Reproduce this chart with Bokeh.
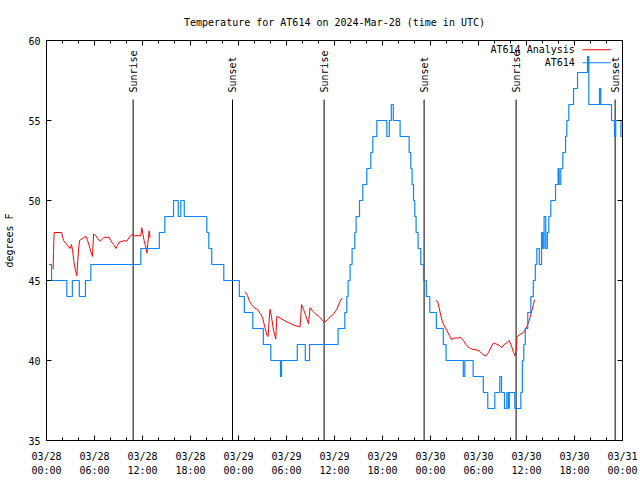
import math
from bokeh.plotting import figure
from bokeh.models import FixedTicker, LinearAxis, Range1d
from bokeh.embed import file_html
from bokeh.resources import INLINE
from bokeh.core.properties import value

FONT = "DejaVu Sans Mono"
TITLE = "Temperature for AT614 on 2024-Mar-28 (time in UTC)"
Y_LABEL = "degrees F"
OBS_NAME = "AT614"
ANA_NAME = "AT614 Analysis"

obs_hours = [0.30, 0.63, 2.54, 3.23, 4.10, 4.87, 5.54, 11.79, 14.10, 14.79,
             15.88, 16.47, 16.79, 17.22, 20.04, 20.29, 20.66, 22.16, 24.10, 24.73,
             25.79, 27.10, 28.04, 29.25, 29.38, 31.35, 32.35, 32.88, 36.45, 37.29,
             37.54, 37.70, 37.95, 38.20, 38.54, 38.70, 39.13, 39.54, 40.04, 40.54,
             40.79, 41.29, 42.54, 42.85, 43.10, 43.35, 44.20, 45.33, 45.54, 45.70,
             45.88, 46.04, 46.20, 46.45, 46.79, 47.13, 47.48, 47.91, 48.73, 49.60,
             49.95, 52.10, 52.29, 53.33, 54.60, 55.16, 56.04, 56.66, 56.88, 57.25,
             57.54, 57.73, 57.85, 58.54, 59.29, 59.48, 59.66, 59.85, 60.16, 60.54,
             60.85, 61.10, 61.29, 61.60, 61.88, 62.04, 62.20, 62.41, 62.60, 62.79,
             63.04, 63.63, 63.95, 64.08, 64.29, 64.54, 64.88, 65.04, 65.29, 65.88,
             66.38, 67.63, 67.79, 69.13, 69.29, 70.63, 71.00, 71.15, 71.80, 72.00]
obs_temps = [46, 45, 44, 45, 44, 45, 46, 47, 48, 49,
             50, 49, 50, 49, 48, 47, 46, 45, 44, 43,
             42, 41, 40, 39, 40, 41, 40, 41, 42, 43,
             44, 45, 46, 47, 48, 49, 50, 51, 52, 53,
             54, 55, 54, 55, 56, 55, 54, 53, 52, 51,
             50, 49, 48, 47, 46, 45, 44, 43, 42, 41,
             40, 39, 40, 39, 38, 37, 38, 39, 38, 37,
             38, 37, 38, 37, 38, 40, 41, 42, 43, 44,
             45, 46, 47, 46, 48, 47, 49, 47, 48, 49,
             50, 51, 52, 51, 52, 53, 54, 55, 56, 57,
             58, 59, 56, 57, 56, 55, 54, 55, 54, 54]

NAN = float("nan")
ana_hours = [0.83, 0.88, 0.95, 1.88, 2.13, 2.63, 2.95, 3.13, 3.25, 3.45,
             3.63, 3.79, 4.00, 4.13, 4.70, 4.95, 5.13, 5.33, 5.54, 5.75,
             5.88, 6.16, 6.45, 6.70, 7.20, 7.83, 8.04, 8.38, 8.70, 8.88,
             9.08, 9.50, 9.70, 10.04, 10.33, 10.75, 10.95, 11.79, 11.91, 12.20,
             12.45, 12.54, 12.66, 12.83, 12.95, NAN,
             24.83, 25.13, 25.33, 25.63, 25.95, 26.38, 26.70, 27.00, 27.29, 27.54,
             27.70, 27.88, 27.95, 28.13, 28.38, 28.66, 28.79, 29.08, 29.70, 30.33,
             30.95, 31.70, 31.88, 32.13, 32.41, 32.75, 32.95, 33.25, 33.66, 34.08,
             34.50, 34.79, 35.13, 35.54, 35.88, 36.29, 36.70, 36.95, NAN,
             48.66, 48.88, 49.08, 49.29, 49.50, 49.79, 50.04, 50.33, 50.63, 50.95,
             51.38, 51.79, 52.13, 52.41, 52.83, 53.25, 53.66, 54.08, 54.50, 54.91,
             55.25, 55.54, 55.88, 56.16, 56.58, 56.91, 57.20, 57.54, 57.83, 58.13,
             58.38, 58.58, 58.73, 58.79, 59.08, 59.50, 59.79, 60.04, 60.20, 60.45,
             60.66, 60.88, 61.00]
ana_temps = [45.7, 46.8, 48.0, 48.0, 47.5, 47.2, 47.0, 47.25, 46.9, 46.1,
             45.6, 45.3, 46.9, 47.5, 47.7, 47.75, 47.5, 47.2, 46.8, 46.5,
             47.9, 47.8, 47.6, 47.45, 47.7, 47.7, 47.5, 47.25, 47.0, 47.2,
             47.4, 47.45, 47.5, 47.45, 47.7, 47.9, 47.8, 47.8, 48.3, 47.5,
             47.0, 46.7, 47.3, 48.1, 47.7, NAN,
             44.3, 44.06, 43.75, 43.5, 43.3, 43.2, 42.95, 42.7, 42.1, 41.6,
             41.5, 42.9, 43.2, 42.7, 41.9, 41.35, 42.75, 42.7, 42.5, 42.35,
             42.2, 42.1, 43.5, 43.2, 42.8, 42.3, 43.3, 43.1, 42.9, 42.75,
             42.5, 42.4, 42.55, 42.75, 42.9, 43.2, 43.7, 43.9, NAN,
             43.75, 43.7, 43.3, 42.8, 42.4, 42.1, 41.9, 41.6, 41.3, 41.4,
             41.4, 41.45, 41.25, 41.0, 40.8, 40.7, 40.67, 40.6, 40.4, 40.27,
             40.5, 40.8, 41.1, 41.05, 40.95, 40.8, 41.0, 41.1, 41.25, 40.9,
             40.5, 40.3, 40.7, 41.45, 41.6, 41.7, 41.9, 42.1, 42.3, 42.7,
             43.1, 43.5, 43.8]

sun_hours = [10.83, 23.25, 34.70, 47.20, 58.70, 71.08]
sun_labels = ["Sunrise", "Sunset", "Sunrise", "Sunset", "Sunrise", "Sunset"]

x_tick_hours = [0, 6, 12, 18, 24, 30, 36, 42, 48, 54, 60, 66, 72]
x_tick_labels = ["03/28\n00:00", "03/28\n06:00", "03/28\n12:00", "03/28\n18:00",
                 "03/29\n00:00", "03/29\n06:00", "03/29\n12:00", "03/29\n18:00",
                 "03/30\n00:00", "03/30\n06:00", "03/30\n12:00", "03/30\n18:00",
                 "03/31\n00:00"]
x_minor_hours = list(range(0, 73, 2))
y_ticks = [35, 40, 45, 50, 55, 60]

X_MIN, X_MAX = 0, 72
Y_MIN, Y_MAX = 35, 60
SUN_LINE_TOP = 56.31
SUN_TEXT_Y = 56.75

RED = "#ff0000"
BLUE = "#0a84ff"

p = figure(width=640, height=480, output_backend="svg", toolbar_location=None,
           x_range=Range1d(X_MIN, X_MAX), y_range=Range1d(Y_MIN, Y_MAX),
           title=TITLE, min_border_left=46, min_border_right=18,
           min_border_top=40, min_border_bottom=40)
p.background_fill_color = "white"
p.border_fill_color = "white"
p.outline_line_color = "black"
p.outline_line_width = 1
p.xgrid.visible = False
p.ygrid.visible = False

p.title.text_font = FONT
p.title.text_font_size = "10px"
p.title.text_font_style = "normal"
p.title.align = "center"
p.title.text_color = "black"
p.title.standoff = 25

xt = FixedTicker(ticks=x_tick_hours, minor_ticks=x_minor_hours)
yt = FixedTicker(ticks=y_ticks, minor_ticks=[])


def style_axis(ax, show_labels):
    ax.axis_line_color = "black"
    ax.major_tick_in = 5
    ax.major_tick_out = 0
    ax.minor_tick_in = 3
    ax.minor_tick_out = 0
    ax.major_tick_line_color = "black"
    ax.minor_tick_line_color = "black"
    ax.major_label_text_font = FONT
    ax.major_label_text_font_size = "10px" if show_labels else "0px"
    ax.major_label_text_color = "black"
    ax.axis_label_text_font = FONT
    ax.axis_label_text_font_size = "10px"
    ax.axis_label_text_font_style = "normal"
    ax.axis_label_text_color = "black"


xa = p.xaxis[0]
xa.ticker = xt
xa.major_label_overrides = {h: lab for h, lab in zip(x_tick_hours, x_tick_labels)}
style_axis(xa, True)
xa.major_label_standoff = 10
xa.major_label_text_line_height = 1.3

ya = p.yaxis[0]
ya.ticker = yt
style_axis(ya, True)
ya.major_label_standoff = 6
ya.axis_label = Y_LABEL
ya.axis_label_standoff = 10

top = LinearAxis(ticker=FixedTicker(ticks=x_tick_hours, minor_ticks=x_minor_hours),
                 major_label_overrides={h: "" for h in x_tick_hours})
style_axis(top, False)
top.major_label_standoff = 0
p.add_layout(top, "above")

right = LinearAxis(ticker=FixedTicker(ticks=y_ticks, minor_ticks=[]),
                   major_label_overrides={t: "" for t in y_ticks})
style_axis(right, False)
right.major_label_standoff = 0
p.add_layout(right, "right")

p.segment(x0=sun_hours, y0=[Y_MIN] * len(sun_hours), x1=sun_hours,
          y1=[SUN_LINE_TOP] * len(sun_hours), line_color="black", line_width=1)
p.text(x=sun_hours, y=[SUN_TEXT_Y] * len(sun_hours), text=sun_labels,
       angle=math.pi / 2, text_align="left", text_baseline="middle",
       text_font=value(FONT), text_font_size="10px", text_color="black")

p.line(ana_hours, ana_temps, line_color=RED, line_width=1)
p.step(obs_hours, obs_temps, mode="after", line_color=BLUE, line_width=1.2)

KEY_TEXT_X = 66.04
KEY_LINE_X0, KEY_LINE_X1 = 67.0, 70.54
KEY_Y = [59.42, 58.61]
p.text(x=[KEY_TEXT_X] * 2, y=KEY_Y, text=[ANA_NAME, OBS_NAME],
       text_align="right", text_baseline="middle",
       text_font=value(FONT), text_font_size="10px", text_color="black")
p.segment(x0=[KEY_LINE_X0] * 2, y0=KEY_Y, x1=[KEY_LINE_X1] * 2, y1=KEY_Y,
          line_color=[RED, BLUE], line_width=[1, 1.2])

open("out.html", "w").write(file_html(p, INLINE))
